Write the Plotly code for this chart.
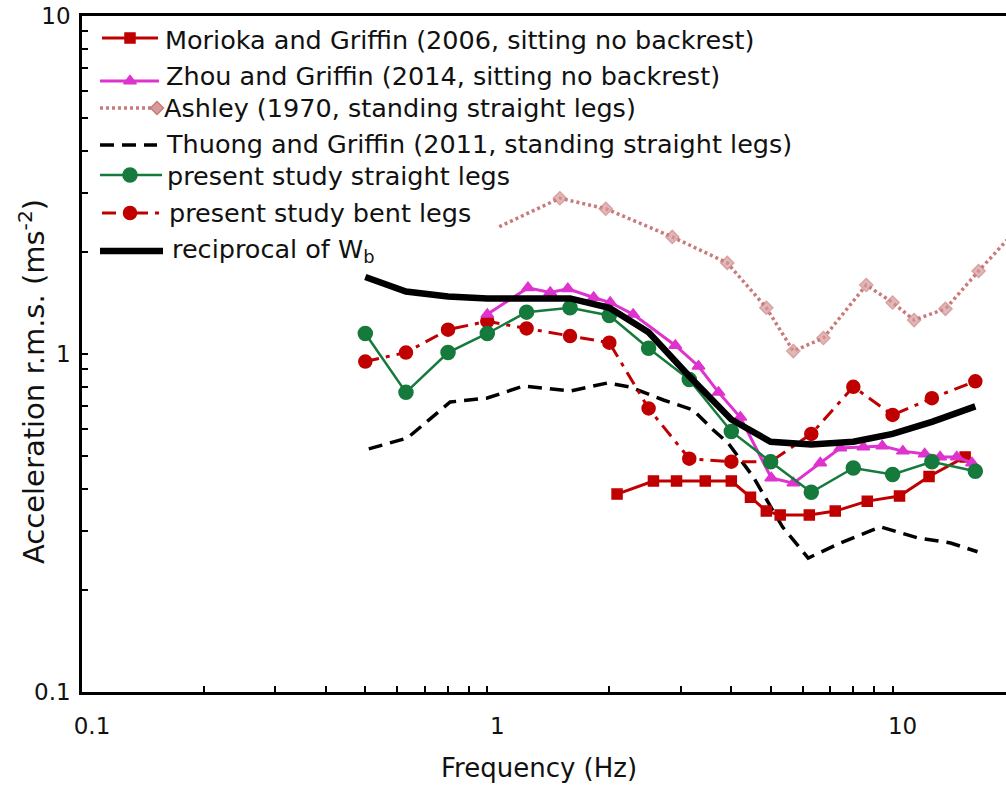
import plotly.graph_objects as go

# ---------------- data ----------------
freq_third = [0.5, 0.63, 0.8, 1.0, 1.25, 1.6, 2.0, 2.5, 3.15, 4.0, 5.0, 6.3, 8.0, 10.0, 12.5, 16.0]
straight_legs = [1.15, 0.77, 1.01, 1.15, 1.33, 1.37, 1.30, 1.04, 0.84, 0.59, 0.48, 0.39, 0.46, 0.44, 0.48, 0.45]
bent_legs = [0.95, 1.01, 1.18, 1.25, 1.19, 1.13, 1.08, 0.69, 0.49, 0.48, 0.48, 0.58, 0.80, 0.66, 0.74, 0.83]
wb_recip = [1.69, 1.53, 1.48, 1.46, 1.46, 1.46, 1.37, 1.16, 0.86, 0.64, 0.55, 0.54, 0.55, 0.58, 0.63, 0.70]

zhou_f = [1.0, 1.26, 1.43, 1.58, 1.83, 2.01, 2.29, 2.91, 3.32, 3.72, 4.21, 5.02, 5.69, 6.63, 7.43, 8.47,
          9.43, 10.6, 12.0, 13.1, 14.4, 15.7]
zhou = [1.31, 1.57, 1.52, 1.56, 1.47, 1.42, 1.31, 1.06, 0.92, 0.77, 0.65, 0.43, 0.415, 0.476, 0.527, 0.531,
        0.534, 0.516, 0.506, 0.496, 0.496, 0.476]

morioka_f = [2.09, 2.57, 2.93, 3.45, 4.0, 4.46, 4.88, 5.28, 6.23, 7.22, 8.66, 10.4, 12.3, 15.1]
morioka = [0.385, 0.421, 0.421, 0.421, 0.421, 0.377, 0.343, 0.334, 0.334, 0.343, 0.367, 0.380, 0.434, 0.496]

thuong_f = [0.51, 0.635, 0.81, 1.0, 1.23, 1.6, 1.98, 2.25, 2.72, 3.22, 3.61, 3.93, 4.53, 5.35, 6.19,
            7.43, 9.33, 11.5, 13.9, 16.2]
thuong = [0.524, 0.564, 0.721, 0.741, 0.804, 0.777, 0.821, 0.799, 0.731, 0.683, 0.596, 0.545, 0.433,
          0.308, 0.249, 0.276, 0.308, 0.286, 0.276, 0.260]

ashley_f = [1.07, 1.51, 1.96, 2.86, 3.91, 4.88, 5.69, 6.75, 8.61, 10.0, 11.3, 13.5, 16.3, 20.0]
ashley = [2.38, 2.89, 2.69, 2.22, 1.86, 1.37, 1.02, 1.115, 1.60, 1.42, 1.26, 1.36, 1.76, 2.3]

series_names = [
    "Morioka and Griffin (2006, sitting no backrest)",
    "Zhou and Griffin (2014, sitting no backrest)",
    "Ashley (1970, standing straight legs)",
    "Thuong and Griffin (2011, standing straight legs)",
    "present study straight legs",
    "present study bent legs",
    "reciprocal of W<sub>b</sub>",
]

major_ticks = [0.1, 1, 10]
major_tick_text = ["0.1", "1", "10"]
minor_ticks = [0.2, 0.3, 0.4, 0.5, 0.6, 0.7, 0.8, 0.9, 2, 3, 4, 5, 6, 7, 8, 9]

x_title = "Frequency (Hz)"
y_title = "Acceleration r.m.s. (ms<sup>-2</sup>)"

# ---------------- style ----------------
W, H = 1006, 787
ML, MR, MT, MB = 82, 0, 16, 95
PW, PH = W - ML - MR, H - MT - MB
DEC_X = 405.3
X_MAX_LOG = -1 + PW / DEC_X

RED = "#C00000"
MAG = "#DE33CE"
ROSE = "#C97B7B"
GREEN = "#157A3C"
BLACK = "#000000"
FONT = "DejaVu Sans"
TXT = "#111111"

styles = [
    dict(color=RED, width=3, dash="solid", symbol="square", msize=10, mcolor=RED, mline=RED),
    dict(color=MAG, width=3, dash="solid", symbol="triangle-up", msize=11, mcolor=MAG, mline=MAG),
    dict(color=ROSE, width=3.5, dash="3px,3px", symbol="diamond", msize=10, mcolor="#D69A9A", mline=ROSE),
    dict(color=BLACK, width=3.5, dash="14px,8px", symbol=None),
    dict(color=GREEN, width=2.5, dash="solid", symbol="circle", msize=14, mcolor=GREEN, mline=GREEN),
    dict(color=RED, width=3, dash="14px,7px,4px,7px", symbol="circle", msize=13, mcolor=RED, mline=RED),
    dict(color=BLACK, width=6.5, dash="solid", symbol=None),
]

fig = go.Figure()


def add_series(x, y, st, marker_sizes=None):
    mode = "lines+markers" if st["symbol"] else "lines"
    kw = dict(x=x, y=y, mode=mode, showlegend=False, hoverinfo="skip",
              line=dict(color=st["color"], width=st["width"], dash=st["dash"]))
    if st["symbol"]:
        kw["marker"] = dict(symbol=st["symbol"], size=marker_sizes if marker_sizes else st["msize"],
                            color=st["mcolor"], line=dict(color=st["mline"], width=1.5))
    fig.add_trace(go.Scatter(**kw))


ashley_sizes = [0] + [styles[2]["msize"]] * (len(ashley) - 1)
add_series(ashley_f, ashley, styles[2], ashley_sizes)
add_series(thuong_f, thuong, styles[3])
add_series(morioka_f, morioka, styles[0])
add_series(freq_third, bent_legs, styles[5])
add_series(zhou_f, zhou, styles[1])
add_series(freq_third, straight_legs, styles[4])
add_series(freq_third, wb_recip, styles[6])

# ---------------- manual legend (pixel overlay axes) ----------------
leg_rows = [
    # line_y, x0, x1, marker_x, text_x, text_y
    (38, 102, 158, 130, 163, 40),
    (81, 100, 159, 130, 164, 76),
    (108, 100, 152, 157, 162, 108),
    (145, 100, 157, None, 164, 144),
    (175, 100, 162, 130, 165, 176),
    (213, 102, 162, 130, 167, 213),
    (251, 100, 163, None, 170, 250),
]
for (ly, x0, x1, mx, tx, ty), st, name in zip(leg_rows, styles, series_names):
    fig.add_trace(go.Scatter(x=[x0, x1], y=[ly, ly], xaxis="x2", yaxis="y2", mode="lines",
                             showlegend=False, hoverinfo="skip",
                             line=dict(color=st["color"], width=st["width"], dash=st["dash"])))
    if mx is not None and st["symbol"]:
        fig.add_trace(go.Scatter(x=[mx], y=[ly], xaxis="x2", yaxis="y2", mode="markers",
                                 showlegend=False, hoverinfo="skip",
                                 marker=dict(symbol=st["symbol"], size=st["msize"], color=st["mcolor"],
                                             line=dict(color=st["mline"], width=1.5))))
    fig.add_annotation(x=tx, y=ty, xref="x2", yref="y2", text=name, showarrow=False,
                       xanchor="left", yanchor="middle",
                       font=dict(family=FONT, size=25.5, color=TXT))

# axis titles (paper coordinates)
fig.add_annotation(x=(539 - ML) / PW, y=(H - MB - 768) / PH, xref="paper", yref="paper",
                   text=x_title, showarrow=False, xanchor="center", yanchor="middle",
                   font=dict(family=FONT, size=26, color=TXT))
fig.add_annotation(x=(32 - ML) / PW, y=(H - MB - 382) / PH, xref="paper", yref="paper",
                   text=y_title, showarrow=False, textangle=-90,
                   xanchor="center", yanchor="middle",
                   font=dict(family=FONT, size=29, color=TXT))

tick_common = dict(ticks="inside", ticklen=6, tickwidth=1.5, tickcolor="black")

fig.update_layout(
    width=W, height=H,
    margin=dict(l=ML, r=MR, t=MT, b=MB, pad=0),
    paper_bgcolor="white", plot_bgcolor="white",
    showlegend=False,
    xaxis=dict(type="log", range=[-1, X_MAX_LOG], showgrid=False, zeroline=False,
               showline=True, linecolor="black", linewidth=2.5, mirror=True,
               tickmode="array", tickvals=major_ticks, ticktext=major_tick_text,
               ticklabelshift=10, ticklabelstandoff=12,
               minor=dict(tickmode="array", tickvals=minor_ticks, showgrid=False, **tick_common),
               tickfont=dict(family=FONT, size=23, color=TXT), **tick_common),
    yaxis=dict(type="log", range=[-1, 1], showgrid=False, zeroline=False,
               showline=True, linecolor="black", linewidth=2.5, mirror=False,
               tickmode="array", tickvals=major_ticks, ticktext=major_tick_text,
               ticklabelstandoff=4,
               minor=dict(tickmode="array", tickvals=minor_ticks, showgrid=False, **tick_common),
               tickfont=dict(family=FONT, size=23, color=TXT), **tick_common),
    xaxis2=dict(overlaying="x", anchor="y2", range=[ML, W - MR], visible=False, fixedrange=True),
    yaxis2=dict(overlaying="y", anchor="x2", range=[H - MB, MT], visible=False, fixedrange=True),
)

fig.write_html("out.html")
